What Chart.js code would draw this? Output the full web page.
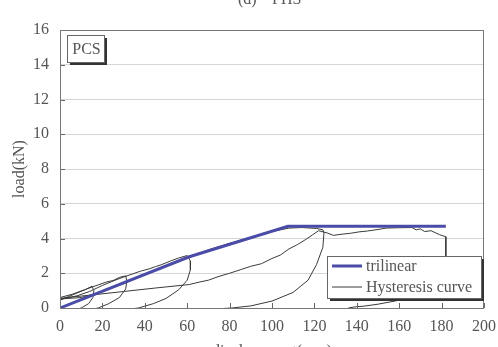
<!DOCTYPE html>
<html>
<head>
<meta charset="utf-8">
<script src="https://cdn.jsdelivr.net/npm/chart.js@4.4.0/dist/chart.umd.min.js"></script>
<style>
html,body{margin:0;padding:0;background:#fff}
#wrap{width:498px;height:347px;position:relative}
</style>
</head>
<body>
<div id="wrap"><canvas id="c"></canvas></div>
<script>
'use strict'

// axis ticks
const xTickVals = [0, 20, 40, 60, 80, 100, 120, 140, 160, 180, 200]
const yTickVals = [0, 2, 4, 6, 8, 10, 12, 14, 16]

// trilinear model
const triDisp = [0, 61, 107.5, 182]
const triLoad = [0, 2.95, 4.7, 4.7]

// hysteresis curve
const hystDisp = [
    0, 4, 8, 12, 15, 16, 15.5, 13.5, 10, -6,
    0, 6, 12, 18, 22, 25, 28, 31, 31.5, 31, 28, 23, 18, -6,
    0, 8, 14, 20, 26, 30, 34, 38, 42, 45, 48, 52, 56, 60, 61.5, 61.5, 60, 56, 50, 44, 37, -6,
    0, 10, 20, 30, 40, 50, 58, 64, 70, 80, 90, 100, 108, 114, 121, 124, 124.5, 124, 121, 117, 110, 100, 90, 81, -6,
    0, 15, 30, 45, 61, 66, 70, 75, 80, 85, 90, 95, 100, 104, 108, 112, 116, 119, 122, 126, 129, 133, 137, 141, 145,
    150, 154, 160, 166, 168, 170, 172, 175, 179, 182, 182, 181, 177, 168, 158, 150, 143, 140, 136
]
const hystLoad = [
    0.45, 0.66, 0.86, 1.06, 1.25, 1.0, 0.6, 0.25, 0, -0.6,
    0.6, 0.8, 1.07, 1.33, 1.5, 1.58, 1.76, 1.85, 1.55, 1.1, 0.6, 0.25, 0, -0.6,
    0.5, 0.7, 0.95, 1.3, 1.6, 1.78, 1.95, 2.12, 2.25, 2.38, 2.5, 2.7, 2.88, 3.02, 2.7, 2.2, 1.6, 1.05, 0.55, 0.25, 0, -0.6,
    0.52, 0.6, 0.95, 1.4, 1.92, 2.42, 2.82, 3.08, 3.35, 3.72, 4.08, 4.4, 4.6, 4.63, 4.58, 4.5, 4.3, 3.5, 2.5, 1.6, 0.9, 0.4, 0.12, 0, -0.6,
    0.56, 0.75, 0.95, 1.15, 1.35, 1.5, 1.6, 1.82, 2.0, 2.2, 2.4, 2.55, 2.85, 3.05, 3.4, 3.65, 3.95, 4.2, 4.45, 4.32, 4.18, 4.25, 4.3, 4.38, 4.43,
    4.52, 4.6, 4.62, 4.63, 4.5, 4.55, 4.4, 4.45, 4.22, 4.1, 3.0, 1.8, 1.2, 0.7, 0.4, 0.22, 0.1, 0.08, 0
]

const seriesNames = ['trilinear', 'Hysteresis curve']
const specimen = 'PCS'

const FONT = "'Liberation Serif', 'DejaVu Serif', serif"
const TXT = '#555'

function toPoints(xs, ys){
    let pts = []
    for(var i = 0; i < xs.length; i++){
        pts.push({x: xs[i], y: ys[i]})
    }
    return pts
}

// frame, inner ticks, labels and the boxed legend
const decor = {
    id: 'decor',
    afterDraw(chart){
        const ctx = chart.ctx
        const a = chart.chartArea
        const xs = chart.scales.x
        const ys = chart.scales.y
        ctx.save()

        ctx.strokeStyle = '#666'
        ctx.lineWidth = 1
        ctx.beginPath()
        yTickVals.forEach(v => {
            const py = Math.round(ys.getPixelForValue(v)) + 0.5
            ctx.moveTo(a.left, py); ctx.lineTo(a.left + 5, py)
        })
        xTickVals.forEach(v => {
            const px = Math.round(xs.getPixelForValue(v)) + 0.5
            ctx.moveTo(px, a.bottom); ctx.lineTo(px, a.bottom - 5)
        })
        ctx.stroke()
        ctx.strokeStyle = '#777'
        ctx.strokeRect(a.left + 0.5, a.top + 0.5, a.right - a.left - 1, a.bottom - a.top)

        // specimen tag
        const tag = {x: a.left + 7, y: a.top + 5, w: 37, h: 27}
        ctx.fillStyle = '#333'
        ctx.fillRect(tag.x + 3, tag.y + 3, tag.w, tag.h)
        ctx.fillStyle = '#fff'
        ctx.fillRect(tag.x, tag.y, tag.w, tag.h)
        ctx.strokeStyle = '#666'
        ctx.strokeRect(tag.x + 0.5, tag.y + 0.5, tag.w, tag.h)
        ctx.fillStyle = TXT
        ctx.font = '16px ' + FONT
        ctx.textAlign = 'center'
        ctx.textBaseline = 'middle'
        ctx.fillText(specimen, tag.x + tag.w / 2 + 1, tag.y + tag.h / 2 + 1)

        // legend
        const lg = {x: a.right - 157, y: a.bottom - 52, w: 154, h: 42}
        ctx.fillStyle = '#333'
        ctx.fillRect(lg.x + 3, lg.y + 3, lg.w, lg.h)
        ctx.fillStyle = '#fff'
        ctx.fillRect(lg.x, lg.y, lg.w, lg.h)
        ctx.strokeStyle = '#666'
        ctx.strokeRect(lg.x + 0.5, lg.y + 0.5, lg.w, lg.h)
        ctx.textAlign = 'left'
        chart.data.datasets.forEach((ds, i) => {
            const cy = lg.y + 10 + i * 21
            ctx.strokeStyle = ds.borderColor
            ctx.lineWidth = ds.borderWidth
            ctx.beginPath()
            ctx.moveTo(lg.x + 5, cy); ctx.lineTo(lg.x + 35, cy)
            ctx.stroke()
            ctx.fillStyle = TXT
            ctx.fillText(ds.label, lg.x + 39, cy + 1)
        })

        // cut-off caption and x title
        ctx.textBaseline = 'alphabetic'
        ctx.fillText('(d)', 238, 4)
        ctx.fillText('PHS', 272, 4)
        ctx.textAlign = 'center'
        ctx.textBaseline = 'top'
        ctx.fillText('displacement(mm)', (a.left + a.right) / 2, 344)
        ctx.restore()
    }
}

const ctx = document.getElementById('c')
new Chart(ctx, {
    type: 'scatter',
    data: {
        datasets: [{
            label: seriesNames[0],
            data: toPoints(triDisp, triLoad),
            showLine: true,
            borderColor: '#4b4ba8',
            borderWidth: 3,
            pointRadius: 0,
            clip: 0
        }, {
            label: seriesNames[1],
            data: toPoints(hystDisp, hystLoad),
            showLine: true,
            borderColor: '#3a3a3a',
            borderWidth: 1,
            pointRadius: 0,
            clip: 0
        }]
    },
    options: {
        responsive: true,
        maintainAspectRatio: false,
        animation: false,
        devicePixelRatio: 1,
        layout: {padding: {left: 0, top: 30, right: 0, bottom: 0}},
        plugins: {legend: {display: false}, tooltip: {enabled: false}},
        scales: {
            x: {
                type: 'linear', min: 0, max: 200,
                afterBuildTicks: s => { s.ticks = xTickVals.map(v => ({value: v})) },
                afterFit: s => { s.height = 39; s.paddingRight = 14; s.paddingLeft = 0 },
                grid: {display: false, drawTicks: false},
                border: {display: false},
                ticks: {padding: 9, color: TXT, font: {family: FONT, size: 16}, maxRotation: 0}
            },
            y: {
                type: 'linear', min: 0, max: 16,
                afterBuildTicks: s => { s.ticks = yTickVals.map(v => ({value: v})) },
                afterFit: s => { s.width = 60 },
                grid: {color: '#d6d6d6', drawTicks: false},
                border: {display: false},
                ticks: {padding: 11, color: TXT, font: {family: FONT, size: 16}},
                title: {display: true, text: 'load(kN)', color: TXT, font: {family: FONT, size: 16}, padding: {top: 10, bottom: 0}}
            }
        }
    },
    plugins: [decor]
})
</script>
</body>
</html>
